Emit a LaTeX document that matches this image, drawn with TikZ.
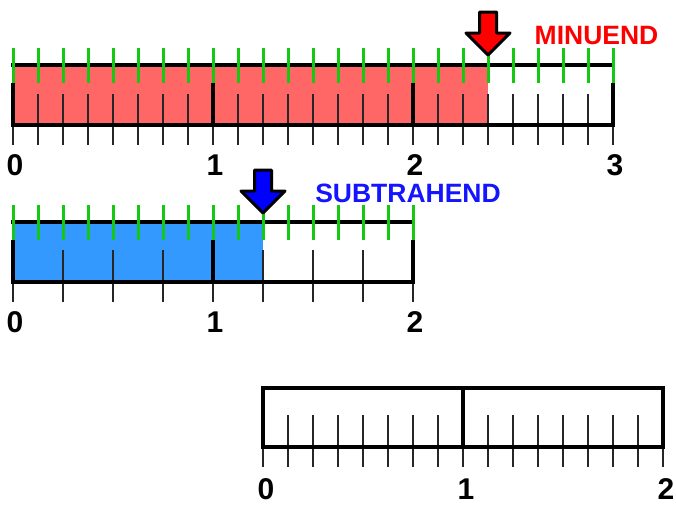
\documentclass[tikz,border=0pt]{standalone}
\usepackage{fontspec}
\setmainfont{Liberation Sans}
\definecolor{gr}{RGB}{20,200,20}
\definecolor{redfill}{RGB}{255,102,102}
\definecolor{bluefill}{RGB}{51,153,255}
\definecolor{lblred}{RGB}{255,0,0}
\definecolor{lblblue}{RGB}{20,20,255}
\tikzset{
  outline/.style={line width=3.5pt, black},
  gtick/.style={line width=3pt, gr},
  btick/.style={line width=2pt, black!85},
  numlbl/.style={font=\bfseries\fontsize{30}{30}\selectfont, inner sep=0pt, text depth=0pt, anchor=base},
  wordlbl/.style={font=\bfseries\fontsize{26.5}{26.5}\selectfont, inner sep=0pt},
  downarrow/.style={line width=3pt, black, line join=round},
}
\begin{document}
\begin{tikzpicture}[x=1pt,y=-1pt]
\useasboundingbox (0,0) rectangle (676,504);
% ---------- top bar (minuend) ----------
\fill[redfill] (13,65) rectangle (488,125);
\foreach \k in {1,...,23} \draw[btick] (13+25*\k,94) -- (13+25*\k,125);
\foreach \k in {0,...,24} \draw[btick] (13+25*\k,125) -- (13+25*\k,145);
\draw[outline] (11.25,65) -- (614.75,65);
\draw[outline] (11.25,125) -- (614.75,125);
\foreach \i in {0,1,2,3} \draw[outline] (13+200*\i,83) -- (13+200*\i,125);
\foreach \k in {0,...,24} \draw[gtick] (13+25*\k,48) -- (13+25*\k,83);
\foreach \i in {0,1,2,3} \node[numlbl] (ta\i) at (15+200*\i,175) {\i};
% red arrow
\coordinate (rtip) at (488,55);
\draw[downarrow, fill=red] (rtip) -- ++(-22,-22) -- ++(13.5,0) -- ++(0,-21) -- ++(17,0) -- ++(0,21) -- ++(13.5,0) -- cycle;
\node[wordlbl, text=lblred] (minuend) at (596.5,36) {MINUEND};
% ---------- middle bar (subtrahend) ----------
\fill[bluefill] (13,222) rectangle (263,282);
\foreach \k in {1,...,7} \draw[btick] (13+50*\k,250) -- (13+50*\k,282);
\foreach \k in {0,...,8} \draw[btick] (13+50*\k,282) -- (13+50*\k,302);
\draw[outline] (11.25,222) -- (414.75,222);
\draw[outline] (11.25,282) -- (414.75,282);
\foreach \i in {0,1,2} \draw[outline] (13+200*\i,240) -- (13+200*\i,282);
\foreach \k in {0,...,16} \draw[gtick] (13+25*\k,205) -- (13+25*\k,240);
\foreach \i in {0,1,2} \node[numlbl] (ma\i) at (15+200*\i,332) {\i};
% blue arrow
\coordinate (btip) at (263,213);
\draw[downarrow, fill=blue] (btip) -- ++(-22,-22) -- ++(13.5,0) -- ++(0,-21) -- ++(17,0) -- ++(0,21) -- ++(13.5,0) -- cycle;
\node[wordlbl, text=lblblue] (subtrahend) at (408,193) {SUBTRAHEND};
% ---------- bottom bar (result) ----------
\foreach \k in {1,...,15} \draw[btick] (263+25*\k,415) -- (263+25*\k,447);
\foreach \k in {0,...,16} \draw[btick] (263+25*\k,447) -- (263+25*\k,467);
\draw[outline] (263,388) rectangle (663,447);
\draw[outline] (463,388) -- (463,447);
\foreach \i in {0,1,2} \node[numlbl] (ba\i) at (266+200*\i,499) {\i};
\end{tikzpicture}
\end{document}
